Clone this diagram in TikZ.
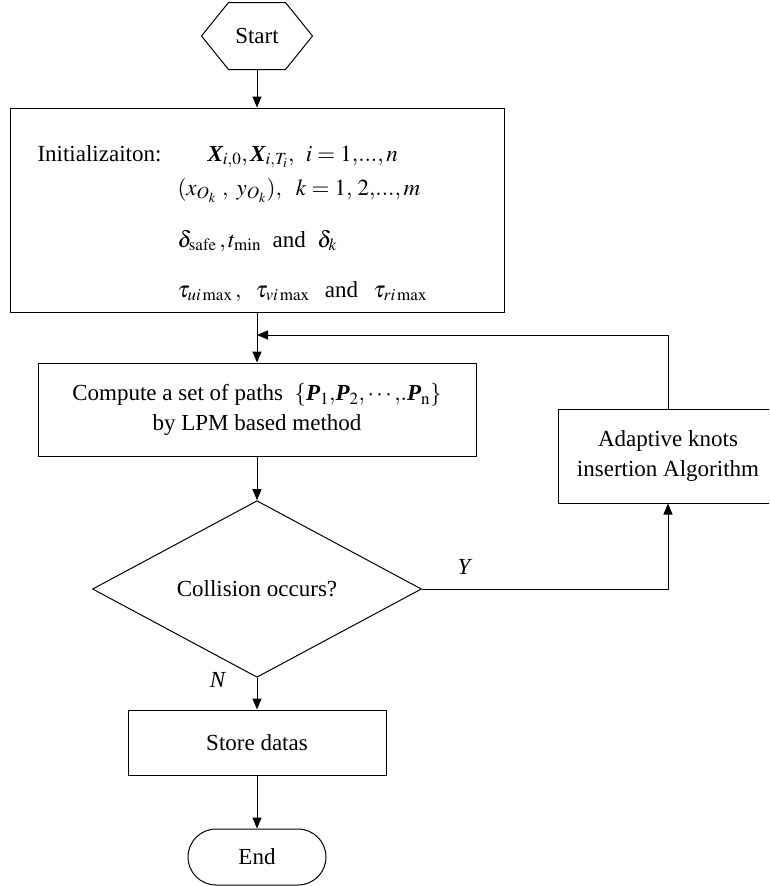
\documentclass[tikz,border=0pt]{standalone}
\usepackage{mathptmx}
\usepackage{fontspec}
\setmainfont{Liberation Serif}
\usetikzlibrary{shapes.geometric,shapes.misc,arrows.meta}
\newcommand\myBX{\mbox{\bfseries\itshape X}}
\newcommand\myBP{\mbox{\bfseries\itshape P}}
\begin{document}
\begin{tikzpicture}[x=1pt,y=-1pt,
  font=\fontsize{23}{30}\selectfont,
  line width=1pt,
  >={Triangle[length=11pt,width=9pt]},
  box/.style={draw, rectangle, inner sep=0pt, align=center},
  txt/.style={inner sep=0pt, anchor=base west}]
\useasboundingbox (0,0) rectangle (769,886);
\clip (0,0) rectangle (769,886);

% Start
\node[minimum width=110pt, minimum height=66pt, inner sep=0pt] (start) at (257,36) {Start};
\draw (start.west) -- ([xshift=27pt]start.north west) -- ([xshift=-27pt]start.north east)
  -- (start.east) -- ([xshift=-27pt]start.south east) -- ([xshift=27pt]start.south west) -- cycle;

% Initialization
\node[box, minimum width=494pt, minimum height=204pt] (init) at (257,210) {};
\node[txt] (initlbl) at (37,161) {Initializaiton:};
\node[txt] (l1) at (207,161) {$\myBX_{i,0}{,}\,\myBX_{i,T_i}{,}\ \ i=1{,}...{,}\,n$};
\node[txt] (l2) at (177,195) {$(x_{O_k}\ ,\ y_{O_k}),\ \ k=1,\,2{,}...{,}\,m$};
\node[txt] (l3) at (177,247) {$\delta_{\mathrm{safe}}\,,t_{\min}$\ \ and\ \ $\delta_k$};
\node[txt] (l4) at (177,297) {$\tau_{ui\max}\,,\ \ \tau_{vi\max}$\ \ \,and\ \ \,$\tau_{ri\max}$};

% Compute
\node[box, minimum width=438pt, minimum height=93pt] (comp) at (257,409.5)
  {Compute a set of paths\ \ $\{\myBP_1{,}\myBP_2{,}\cdots{,}.\myBP_{\mathrm{n}}\}$\\[0pt] by LPM based method};

% Adaptive (right side runs off the page)
\node[minimum width=220pt, minimum height=94pt, inner sep=0pt, align=center] (adapt) at (668,456)
  {Adaptive knots\\[0pt] insertion Algorithm};
\draw (769,409) -- (558,409) -- (558,503) -- (769,503);

% Decision
\node[draw, diamond, minimum width=329pt, minimum height=144pt, inner sep=0pt] (dec) at (257,589) {Collision occurs?};

% Store
\node[box, minimum width=258pt, minimum height=65pt] (store) at (257,742.5) {Store datas};

% End
\node[draw, rounded rectangle, minimum width=138pt, minimum height=56pt, inner sep=0pt] (end) at (257,857) {End};

% Labels
\node[inner sep=0pt] (ylbl) at (465,567) {\textit{Y}};
\node[inner sep=0pt] (nlbl) at (218,680) {\textit{N}};

\coordinate (fb) at (257,335);

% Connectors
\draw[->] (start.south) -- (init.north);
\draw[->] (init.south) -- (comp.north);
\draw[->] (comp.south) -- (dec.north);
\draw[->] (dec.south) -- (store.north);
\draw[->] (store.south) -- (end.north);
\draw[->] (dec.east) -| (adapt.south);
\draw[->] (adapt.north) |- (fb);
\end{tikzpicture}
\end{document}
